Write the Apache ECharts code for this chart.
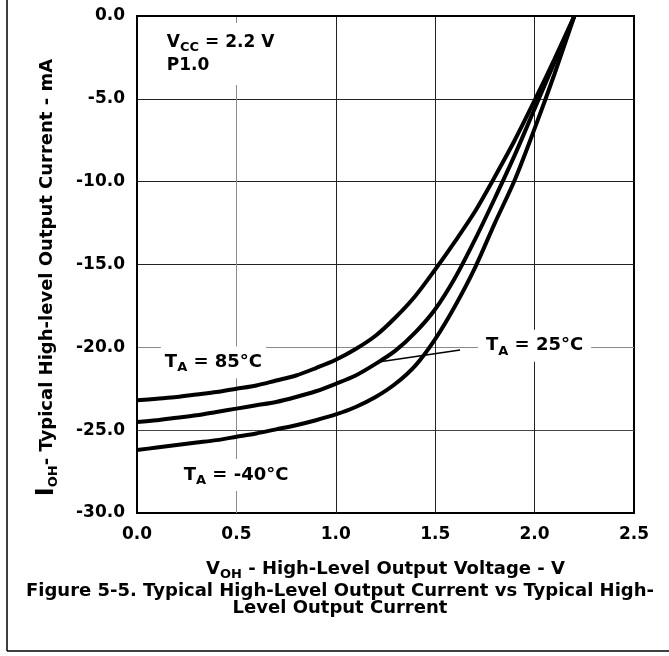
<!DOCTYPE html>
<html>
<head>
<meta charset="utf-8">
<script src="https://cdn.jsdelivr.net/npm/echarts@6/dist/echarts.min.js"></script>
<style>
  html, body { margin: 0; padding: 0; background: #fff; }
  #main { width: 669px; height: 656px; }
</style>
</head>
<body>
<div id="main"></div>
<script>
// output voltage (V) sample points
const volts = [0.0, 0.1, 0.2, 0.3, 0.4, 0.5, 0.6, 0.7, 0.8, 0.9, 1.0, 1.1,
  1.2, 1.3, 1.4, 1.5, 1.6, 1.7, 1.8, 1.9, 2.0, 2.1, 2.2];
// I_OH (mA)
const ioh85 = [-23.2, -23.1, -23.0, -22.85, -22.7, -22.5, -22.3, -22.0, -21.7, -21.25, -20.75, -20.1,
  -19.3, -18.2, -16.9, -15.3, -13.6, -11.8, -9.7, -7.5, -5.1, -2.6, 0.0];
const ioh25 = [-24.5, -24.4, -24.25, -24.1, -23.9, -23.7, -23.5, -23.3, -23.0, -22.65, -22.2, -21.7,
  -21.0, -20.2, -19.1, -17.7, -15.8, -13.5, -11.0, -8.4, -5.6, -2.8, 0.0];
const iohM40 = [-26.2, -26.05, -25.9, -25.75, -25.6, -25.4, -25.2, -24.95, -24.7, -24.4, -24.05, -23.6,
  -23.0, -22.2, -21.1, -19.5, -17.5, -15.2, -12.5, -9.9, -6.8, -3.5, 0.0];
const xTicks = [0.0, 0.5, 1.0, 1.5, 2.0, 2.5];
const yTicks = [-30, -25, -20, -15, -10, -5, 0];

const FONT = 'DejaVu Sans';
const chart = echarts.init(document.getElementById('main'));

const pairs = (ys) => volts.map((v, i) => [v, ys[i]]);
const sub = { fontFamily: FONT, fontWeight: 'bold', fontSize: 13, lineHeight: 13, verticalAlign: 'bottom', color: '#000' };
const txt = { fontFamily: FONT, fontWeight: 'bold', fontSize: 18, lineHeight: 24, color: '#000' };

function tag(coord, text, extra) {
  return {
    coord: coord, symbolSize: 0,
    label: Object.assign({
      show: true, position: 'right', distance: 0, formatter: text,
      backgroundColor: '#fff', padding: [4, 4],
      rich: { n: txt, s: sub }
    }, extra || {})
  };
}

const curve = (name, ys, marks) => ({
  name: name, type: 'line', data: pairs(ys), smooth: 0.3, showSymbol: false,
  lineStyle: { color: '#000', width: 4 }, z: 3, silent: true,
  markPoint: marks ? { data: marks, silent: true } : undefined,
  markLine: name === '25' ? {
    silent: true, symbol: ['none', 'none'], label: { show: false },
    lineStyle: { color: '#000', width: 1.5, type: 'solid' },
    data: [[{ coord: [1.206, -20.9] }, { coord: [1.625, -20.16] }]]
  } : undefined
});

const option = {
  animation: false,
  backgroundColor: '#fff',
  title: {
    text: 'Figure 5-5. Typical High-Level Output Current vs Typical High-\nLevel Output Current',
    left: 335, top: 578, textAlign: 'center',
    textStyle: { fontFamily: FONT, fontWeight: 'bold', fontSize: 18, lineHeight: 17, color: '#000' }
  },
  grid: { left: 137, top: 16, width: 497, height: 497, show: true, borderColor: '#000', borderWidth: 2 },
  xAxis: {
    type: 'value', min: 0, max: 2.5, interval: 0.5,
    axisLine: { show: true, lineStyle: { color: '#000', width: 2 } },
    axisTick: { show: false },
    axisLabel: { margin: 13, fontFamily: FONT, fontWeight: 'bold', fontSize: 17, color: '#000',
      formatter: (v) => xTicks.includes(v) ? v.toFixed(1) : '' },
    splitLine: { show: true, lineStyle: { color: ['#000', '#8a8a8a', '#222', '#222', '#222', '#000'], width: 1 } },
    name: '{n|V}{s|OH}{n| - High-Level Output Voltage - V}',
    nameLocation: 'middle', nameGap: 44,
    nameTextStyle: { rich: { n: txt, s: sub } }
  },
  yAxis: {
    type: 'value', min: -30, max: 0, interval: 5,
    axisLine: { show: true, lineStyle: { color: '#000', width: 2 } },
    axisTick: { show: false },
    axisLabel: { margin: 12, fontFamily: FONT, fontWeight: 'bold', fontSize: 17, color: '#000',
      formatter: (v) => yTicks.includes(v) ? v.toFixed(1) : '' },
    splitLine: { show: true, lineStyle: { color: ['#000', '#444', '#8a8a8a', '#222', '#222', '#222', '#000'], width: 1 } },
    name: '{i|I}{s|OH}{n|- Typical High-level Output Current - mA}',
    nameLocation: 'middle', nameRotate: 90, nameGap: 77,
    nameTextStyle: { padding: [0, 26, 0, 0], rich: {
      i: { fontFamily: FONT, fontWeight: 'bold', fontSize: 24, lineHeight: 26, color: '#000' },
      s: sub, n: txt } }
  },
  series: [
    curve('85', ioh85, [
      tag([0.14, -2.3], '{n|V}{s|CC}{n| = 2.2 V}\n{n|P1.0}', { padding: [8, 6, 8, 2], rich: { n: Object.assign({}, txt, { fontSize: 17, lineHeight: 23 }), s: sub } }),
      tag([0.12, -20.9], '{n|T}{s|A}{n| = 85°C}')
    ]),
    curve('25', ioh25, [tag([1.715, -19.9], '{n|T}{s|A}{n| = 25°C}', { padding: [4, 8] })]),
    curve('-40', iohM40, [tag([0.215, -27.7], '{n|T}{s|A}{n| = -40°C}')])
  ],
  graphic: [
    { type: 'line', shape: { x1: 7, y1: 0, x2: 7, y2: 651 }, style: { stroke: '#000', lineWidth: 1.5 } },
    { type: 'line', shape: { x1: 7, y1: 651, x2: 669, y2: 651 }, style: { stroke: '#000', lineWidth: 1.5 } }
  ]
};
chart.setOption(option);
</script>
</body>
</html>
